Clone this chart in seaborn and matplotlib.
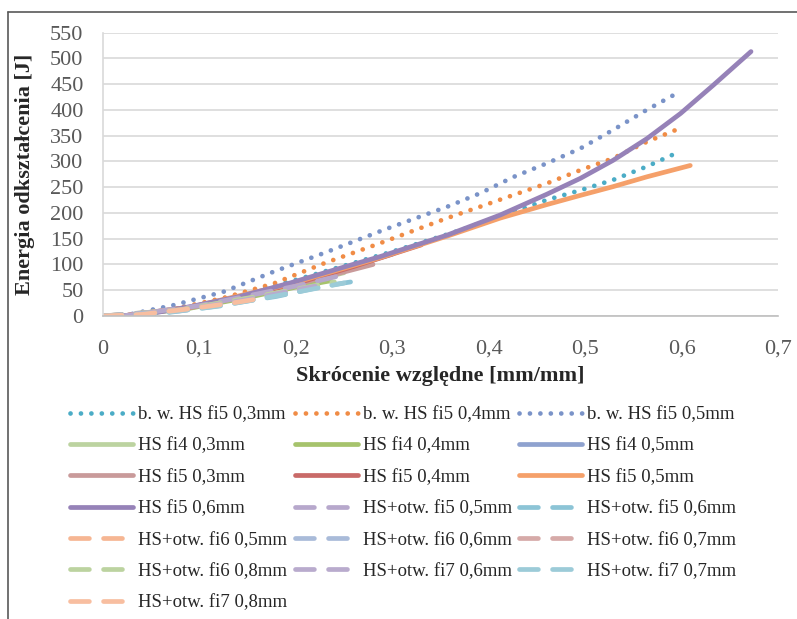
import matplotlib
matplotlib.use('Agg')
import matplotlib.pyplot as plt
from matplotlib.lines import Line2D
import seaborn as sns

# dotted series (b. w.)
bw03_x = [0.02, 0.10, 0.20, 0.30, 0.36, 0.426, 0.46, 0.495, 0.529, 0.564, 0.598]
bw03_y = [0, 22, 70, 125, 160, 202, 225, 244, 264, 290, 319]
bw04_x = [0.02, 0.07, 0.125, 0.177, 0.229, 0.287, 0.357, 0.391, 0.426, 0.46, 0.495, 0.529, 0.564, 0.602]
bw04_y = [0, 12, 35, 63, 102, 141, 190, 212, 235, 257, 283, 306, 338, 367]
bw05_x = [0.02, 0.073, 0.125, 0.177, 0.229, 0.291, 0.357, 0.391, 0.426, 0.46, 0.495, 0.529, 0.564, 0.598]
bw05_y = [0, 21, 47, 86, 122, 167, 212, 238, 270, 296, 325, 361, 400, 435]

# solid series (HS)
fi4_03_x = [0.02, 0.09, 0.15, 0.20, 0.25]
fi4_03_y = [0, 16, 38, 60, 84]
fi4_04_x = [0.02, 0.09, 0.15, 0.20, 0.235]
fi4_04_y = [0, 15, 36, 56, 68]
fi4_05_x = [0.02, 0.09, 0.15, 0.20, 0.25, 0.30]
fi4_05_y = [0, 17, 40, 63, 92, 120]
fi5_03_x = [0.02, 0.09, 0.15, 0.20, 0.28]
fi5_03_y = [0, 16, 39, 61, 100]
fi5_04_x = [0.02, 0.09, 0.15, 0.20, 0.26, 0.33]
fi5_04_y = [0, 17, 40, 63, 96, 138]
fi5_05_x = [0.02, 0.09, 0.194, 0.287, 0.357, 0.412, 0.46, 0.495, 0.529, 0.564, 0.609]
fi5_05_y = [0, 17, 62, 113, 155, 190, 216, 234, 251, 270, 292]
fi5_06_x = [0.018, 0.05, 0.09, 0.14, 0.194, 0.25, 0.287, 0.357, 0.412, 0.46, 0.495, 0.529, 0.564, 0.599, 0.633, 0.672]
fi5_06_y = [0, 5, 18, 37, 64, 95, 115, 157, 196, 236, 267, 302, 344, 393, 448, 513]

# dashed series (HS+otw.)
o5_05_x = [0.02, 0.10, 0.20, 0.25]
o5_05_y = [0, 20, 58, 80]
o5_06_x = [0.0, 0.06, 0.11, 0.18, 0.23, 0.27]
o5_06_y = [0, 5, 17, 38, 58, 70]
o6_05_x = [0.0, 0.05, 0.09, 0.13, 0.17]
o6_05_y = [0, 5, 13, 25, 37]
o6_06_x = [0.0, 0.08, 0.15, 0.20]
o6_06_y = [0, 10, 30, 48]
o6_07_x = [0.0, 0.08, 0.15, 0.21]
o6_07_y = [0, 12, 34, 55]
o6_08_x = [0.0, 0.08, 0.16, 0.24]
o6_08_y = [0, 12, 38, 66]
o7_06_x = [0.0, 0.08, 0.15, 0.22]
o7_06_y = [0, 11, 32, 58]
o7_07_x = [0.0, 0.06, 0.12, 0.20, 0.25]
o7_07_y = [0, 6, 19, 46, 64]
o7_08_x = [0.0, 0.04, 0.09, 0.13, 0.16]
o7_08_y = [0, 3, 14, 24, 33]

dot = (0, (0.01, 2.2))
dash = (0, (4.0, 3.0))
series = [
    ('b. w. HS fi5 0,3mm', bw03_x, bw03_y, '#4bacc6', dot),
    ('b. w. HS fi5 0,4mm', bw04_x, bw04_y, '#f08c46', dot),
    ('b. w. HS fi5 0,5mm', bw05_x, bw05_y, '#7a93c8', dot),
    ('HS fi4 0,3mm', fi4_03_x, fi4_03_y, '#bcd3a0', '-'),
    ('HS fi4 0,4mm', fi4_04_x, fi4_04_y, '#a6c36c', '-'),
    ('HS fi4 0,5mm', fi4_05_x, fi4_05_y, '#8fa2cf', '-'),
    ('HS fi5 0,3mm', fi5_03_x, fi5_03_y, '#c99a9a', '-'),
    ('HS fi5 0,4mm', fi5_04_x, fi5_04_y, '#c96a68', '-'),
    ('HS fi5 0,5mm', fi5_05_x, fi5_05_y, '#f5a06a', '-'),
    ('HS fi5 0,6mm', fi5_06_x, fi5_06_y, '#9682b8', '-'),
    ('HS+otw. fi5 0,5mm', o5_05_x, o5_05_y, '#b7a8cc', dash),
    ('HS+otw. fi5 0,6mm', o5_06_x, o5_06_y, '#8cc4d6', dash),
    ('HS+otw. fi6 0,5mm', o6_05_x, o6_05_y, '#f6b693', dash),
    ('HS+otw. fi6 0,6mm', o6_06_x, o6_06_y, '#a9bbd9', dash),
    ('HS+otw. fi6 0,7mm', o6_07_x, o6_07_y, '#d6aaa8', dash),
    ('HS+otw. fi6 0,8mm', o6_08_x, o6_08_y, '#bcd3a0', dash),
    ('HS+otw. fi7 0,6mm', o7_06_x, o7_06_y, '#b9abcd', dash),
    ('HS+otw. fi7 0,7mm', o7_07_x, o7_07_y, '#9ccbd8', dash),
    ('HS+otw. fi7 0,8mm', o7_08_x, o7_08_y, '#f8bea0', dash),
]

sns.set_style('white')
plt.rcParams['font.family'] = ['Liberation Serif', 'DejaVu Serif']

fig = plt.figure(figsize=(7.97, 6.19), dpi=100)
ax = fig.add_axes([103 / 797, 1 - 316 / 619, 675 / 797, 283.5 / 619])

LW = 3.4
for name, xs, ys, color, ls in series:
    sns.lineplot(x=xs, y=ys, ax=ax, color=color, lw=LW, linestyle=ls,
                 estimator=None, sort=False, label=name,
                 dash_capstyle='round', solid_capstyle='round', solid_joinstyle='round')
if ax.get_legend() is not None:
    ax.get_legend().remove()

ax.set_xlim(0, 0.7)
ax.set_ylim(0, 550)
ax.set_xticks([i / 10 for i in range(8)])
ax.set_xticklabels(['0', '0,1', '0,2', '0,3', '0,4', '0,5', '0,6', '0,7'])
ax.set_yticks(range(0, 551, 50))
ax.tick_params(axis='both', length=0, labelsize=16, colors='#595959', pad=14)
ax.tick_params(axis='x', pad=17)
ax.grid(axis='y', color='#d9d9d9', lw=1.2)
ax.set_axisbelow(True)
for side in ['top', 'right']:
    ax.spines[side].set_visible(False)
ax.spines['left'].set_color('#d9d9d9')
ax.spines['bottom'].set_color('#bfbfbf')
ax.spines['left'].set_linewidth(1.2)
ax.spines['bottom'].set_linewidth(1.2)

ax.set_xlabel('Skrócenie względne [mm/mm]', fontsize=16, fontweight='bold', color='#262626')
ax.set_ylabel('Energia odkształcenia [J]', fontsize=16, fontweight='bold', color='#262626')
ax.xaxis.set_label_coords(0.5, (316 - 376) / 283.5)
ax.xaxis.label.set_va('center')
ax.yaxis.set_label_coords((25 - 103) / 675, 0.5)
ax.yaxis.label.set_va('center')

# legend in row-major order, 3 columns
handles = [Line2D([], [], color=c, lw=LW, linestyle=ls, dash_capstyle='round', solid_capstyle='round')
           for _, _, _, c, ls in series]
labels = [s[0] for s in series]
order = list(range(0, 19, 3)) + list(range(1, 19, 3)) + list(range(2, 19, 3))
fig.legend([handles[i] for i in order], [labels[i] for i in order],
           loc='upper left', bbox_to_anchor=(70 / 797, 1 - 406 / 619), ncol=3,
           frameon=False, fontsize=13.5, handlelength=3.36, handletextpad=0.27,
           columnspacing=0.4, labelspacing=0.76, borderpad=0, borderaxespad=0,
           labelcolor='#262626')

# outer frame (left and top edges)
fig.add_artist(Line2D([8 / 797, 8 / 797], [0, 1 - 12 / 619], transform=fig.transFigure,
                      color='#595959', lw=1.2))
fig.add_artist(Line2D([8 / 797, 1], [1 - 12 / 619, 1 - 12 / 619], transform=fig.transFigure,
                      color='#595959', lw=1.2))

fig.savefig('out.png', dpi=100)
